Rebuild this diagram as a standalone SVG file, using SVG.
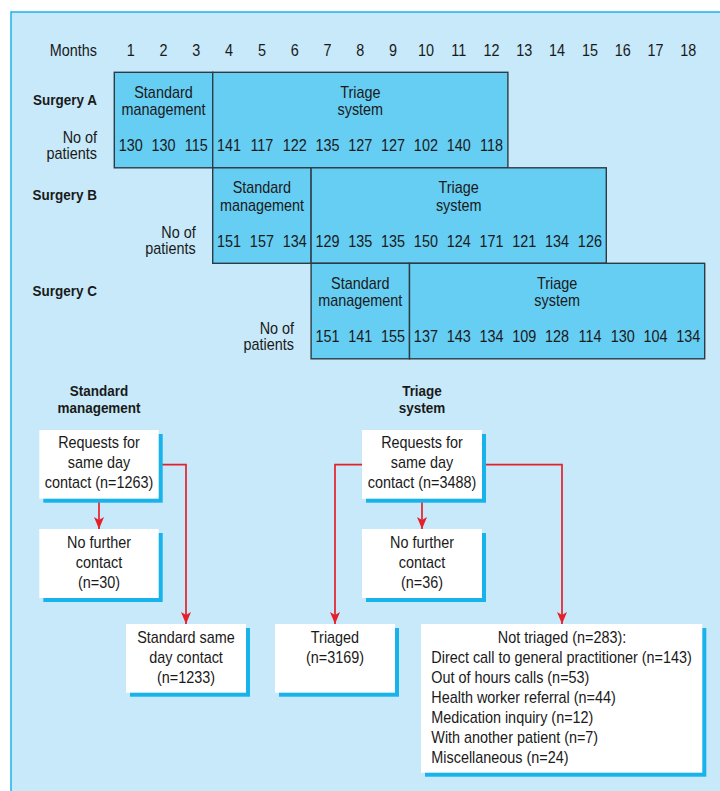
<svg xmlns="http://www.w3.org/2000/svg" width="720" height="791" viewBox="0 0 720 791">
<defs>
<style>
text{font-family:"Liberation Sans",Arial,sans-serif;font-size:16px;fill:#1a1a1a;transform-box:fill-box;transform-origin:0% 50%;transform:scaleX(0.9)}
.b{font-weight:bold;font-size:15px}
.m{text-anchor:middle;transform-origin:50% 50%}
.e{text-anchor:end;transform-origin:100% 50%}
.bar{fill:#66cdf3;stroke:#2e3b44;stroke-width:1.4}
.box{fill:#ffffff}
.sh{fill:#19b3ec}
.con{fill:none;stroke:#e5202b;stroke-width:1.7}
</style>
<marker id="ah" viewBox="0 0 12 10" refX="12" refY="5" markerWidth="12" markerHeight="10" markerUnits="userSpaceOnUse" orient="auto">
<path d="M0,0 L12,5 L0,10 L3,5 z" fill="#e5202b"/>
</marker>
</defs>
<rect x="11" y="12" width="720" height="800" fill="#c7e9f9" stroke="#1cb1ec" stroke-width="1.5"/>

<g id="months">
<text class="e" x="97" y="56">Months</text>
<text class="m" x="130.7" y="56">1</text>
<text class="m" x="163.5" y="56">2</text>
<text class="m" x="196.3" y="56">3</text>
<text class="m" x="229.1" y="56">4</text>
<text class="m" x="261.9" y="56">5</text>
<text class="m" x="294.7" y="56">6</text>
<text class="m" x="327.5" y="56">7</text>
<text class="m" x="360.3" y="56">8</text>
<text class="m" x="393.1" y="56">9</text>
<text class="m" x="425.9" y="56">10</text>
<text class="m" x="458.7" y="56">11</text>
<text class="m" x="491.5" y="56">12</text>
<text class="m" x="524.3" y="56">13</text>
<text class="m" x="557.1" y="56">14</text>
<text class="m" x="589.9" y="56">15</text>
<text class="m" x="622.7" y="56">16</text>
<text class="m" x="655.5" y="56">17</text>
<text class="m" x="688.3" y="56">18</text>
</g>

<g id="surgeryA">
<text class="b e" x="97" y="104.7">Surgery A</text>
<text class="e" x="97" y="143">No of</text>
<text class="e" x="97" y="159">patients</text>
<rect class="bar" x="114.3" y="72.3" width="98.4" height="95.5"/>
<rect class="bar" x="212.7" y="72.3" width="295.2" height="95.5"/>
<text class="m" x="163.5" y="97.8">Standard</text>
<text class="m" x="163.5" y="115.3">management</text>
<text class="m" x="360.3" y="97.8">Triage</text>
<text class="m" x="360.3" y="115.3">system</text>
<text class="m" x="130.7" y="151.3">130</text>
<text class="m" x="163.5" y="151.3">130</text>
<text class="m" x="196.3" y="151.3">115</text>
<text class="m" x="229.1" y="151.3">141</text>
<text class="m" x="261.9" y="151.3">117</text>
<text class="m" x="294.7" y="151.3">122</text>
<text class="m" x="327.5" y="151.3">135</text>
<text class="m" x="360.3" y="151.3">127</text>
<text class="m" x="393.1" y="151.3">127</text>
<text class="m" x="425.9" y="151.3">102</text>
<text class="m" x="458.7" y="151.3">140</text>
<text class="m" x="491.5" y="151.3">118</text>
</g>

<g id="surgeryB">
<text class="b e" x="97" y="200.2">Surgery B</text>
<text class="e" x="195.7" y="238.5">No of</text>
<text class="e" x="195.7" y="254.5">patients</text>
<rect class="bar" x="212.7" y="167.8" width="98.4" height="95.5"/>
<rect class="bar" x="311.1" y="167.8" width="295.2" height="95.5"/>
<text class="m" x="261.9" y="193.3">Standard</text>
<text class="m" x="261.9" y="210.8">management</text>
<text class="m" x="458.7" y="193.3">Triage</text>
<text class="m" x="458.7" y="210.8">system</text>
<text class="m" x="229.1" y="246.8">151</text>
<text class="m" x="261.9" y="246.8">157</text>
<text class="m" x="294.7" y="246.8">134</text>
<text class="m" x="327.5" y="246.8">129</text>
<text class="m" x="360.3" y="246.8">135</text>
<text class="m" x="393.1" y="246.8">135</text>
<text class="m" x="425.9" y="246.8">150</text>
<text class="m" x="458.7" y="246.8">124</text>
<text class="m" x="491.5" y="246.8">171</text>
<text class="m" x="524.3" y="246.8">121</text>
<text class="m" x="557.1" y="246.8">134</text>
<text class="m" x="589.9" y="246.8">126</text>
</g>

<g id="surgeryC">
<text class="b e" x="97" y="295.7">Surgery C</text>
<text class="e" x="294" y="334">No of</text>
<text class="e" x="294" y="350">patients</text>
<rect class="bar" x="311.1" y="263.3" width="98.4" height="95.5"/>
<rect class="bar" x="409.5" y="263.3" width="295.2" height="95.5"/>
<text class="m" x="360.3" y="288.8">Standard</text>
<text class="m" x="360.3" y="306.3">management</text>
<text class="m" x="557.1" y="288.8">Triage</text>
<text class="m" x="557.1" y="306.3">system</text>
<text class="m" x="327.5" y="342.3">151</text>
<text class="m" x="360.3" y="342.3">141</text>
<text class="m" x="393.1" y="342.3">155</text>
<text class="m" x="425.9" y="342.3">137</text>
<text class="m" x="458.7" y="342.3">143</text>
<text class="m" x="491.5" y="342.3">134</text>
<text class="m" x="524.3" y="342.3">109</text>
<text class="m" x="557.1" y="342.3">128</text>
<text class="m" x="589.9" y="342.3">114</text>
<text class="m" x="622.7" y="342.3">130</text>
<text class="m" x="655.5" y="342.3">104</text>
<text class="m" x="688.3" y="342.3">134</text>
</g>

<g id="headings">
<text class="b m" x="99" y="396">Standard</text>
<text class="b m" x="99" y="413.3">management</text>
<text class="b m" x="422" y="396">Triage</text>
<text class="b m" x="422" y="413.3">system</text>
</g>

<g id="connectors">
<path class="con" d="M99,498.7 V529" marker-end="url(#ah)"/>
<path class="con" d="M158.7,464.7 H186 V624" marker-end="url(#ah)"/>
<path class="con" d="M422,498.7 V529" marker-end="url(#ah)"/>
<path class="con" d="M362,464.7 H335 V624" marker-end="url(#ah)"/>
<path class="con" d="M482,464.7 H562 V624" marker-end="url(#ah)"/>
</g>

<g id="sm-requests">
<rect class="sh" x="43.3" y="434" width="119.4" height="68.7"/>
<rect class="box" x="39.3" y="430" width="119.4" height="68.7"/>
<text class="m" x="99" y="448.3">Requests for</text>
<text class="m" x="99" y="468.3">same day</text>
<text class="m" x="99" y="488.3">contact (n=1263)</text>
</g>
<g id="sm-nofurther">
<rect class="sh" x="43.3" y="533" width="119.4" height="69"/>
<rect class="box" x="39.3" y="529" width="119.4" height="69"/>
<text class="m" x="99" y="547.7">No further</text>
<text class="m" x="99" y="567.7">contact</text>
<text class="m" x="99" y="587.7">(n=30)</text>
</g>
<g id="sm-standard">
<rect class="sh" x="130" y="628" width="120" height="68.7"/>
<rect class="box" x="126" y="624" width="120" height="68.7"/>
<text class="m" x="186" y="642.7">Standard same</text>
<text class="m" x="186" y="662.7">day contact</text>
<text class="m" x="186" y="682.7">(n=1233)</text>
</g>
<g id="ts-requests">
<rect class="sh" x="366" y="434" width="120" height="68.7"/>
<rect class="box" x="362" y="430" width="120" height="68.7"/>
<text class="m" x="422" y="448.3">Requests for</text>
<text class="m" x="422" y="468.3">same day</text>
<text class="m" x="422" y="488.3">contact (n=3488)</text>
</g>
<g id="ts-nofurther">
<rect class="sh" x="366" y="533" width="120" height="69"/>
<rect class="box" x="362" y="529" width="120" height="69"/>
<text class="m" x="422" y="547.7">No further</text>
<text class="m" x="422" y="567.7">contact</text>
<text class="m" x="422" y="587.7">(n=36)</text>
</g>
<g id="ts-triaged">
<rect class="sh" x="279" y="628" width="120" height="68.7"/>
<rect class="box" x="275" y="624" width="120" height="68.7"/>
<text class="m" x="335" y="642.7">Triaged</text>
<text class="m" x="335" y="662.7">(n=3169)</text>
</g>
<g id="ts-nottriaged">
<rect class="sh" x="425" y="628" width="281.3" height="148.7"/>
<rect class="box" x="421" y="624" width="281.3" height="148.7"/>
<text class="m" x="562" y="642.7">Not triaged (n=283):</text>
<text x="431.3" y="662.7">Direct call to general practitioner (n=143)</text>
<text x="431.3" y="682.7">Out of hours calls (n=53)</text>
<text x="431.3" y="702.7">Health worker referral (n=44)</text>
<text x="431.3" y="722.7">Medication inquiry (n=12)</text>
<text x="431.3" y="742.7">With another patient (n=7)</text>
<text x="431.3" y="762.7">Miscellaneous (n=24)</text>
</g>
</svg>
